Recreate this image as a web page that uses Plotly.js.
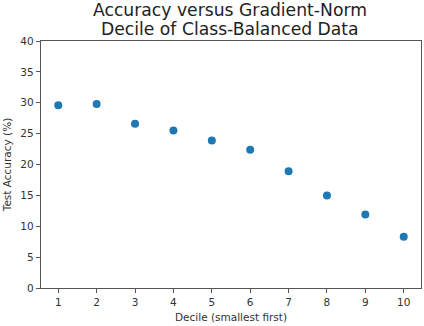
<!DOCTYPE html>
<html>
<head>
<meta charset="utf-8">
<script src="https://cdn.plot.ly/plotly-3.0.1.min.js"></script>
<style>
  html, body { margin: 0; padding: 0; background: #fff; }
  #chart { width: 424px; height: 326px; }
</style>
</head>
<body>
<div id="chart"></div>
<script>
// deciles and test accuracy
const deciles = [1, 2, 3, 4, 5, 6, 7, 8, 9, 10];
const accuracy = [29.6, 29.8, 26.6, 25.5, 23.9, 22.4, 18.9, 15.0, 11.9, 8.3];
const yTicks = [0, 5, 10, 15, 20, 25, 30, 35, 40];
const titleLines = ['Accuracy versus Gradient-Norm', 'Decile of Class-Balanced Data'];

const axisCommon = {
    showline: true,
    mirror: true,
    linecolor: '#555',
    linewidth: 1.2,
    ticks: 'outside',
    ticklen: 4,
    tickcolor: '#555',
    showgrid: false,
    zeroline: false,
    tickfont: { size: 10.5, color: '#333' },
};

const trace = {
    x: deciles,
    y: accuracy,
    mode: 'markers',
    type: 'scatter',
    marker: { size: 8, color: '#1f77b4' },
    hoverinfo: 'x+y',
};

// two-line title placed as annotations (tighter line spacing than layout.title)
const titleY = [1.124, 1.047];
const annotations = titleLines.map((t, i) => ({
    text: t,
    xref: 'paper',
    yref: 'paper',
    x: 0.497,
    y: titleY[i],
    xanchor: 'center',
    yanchor: 'middle',
    showarrow: false,
    font: { size: 17.2, color: '#222' },
}));

const layout = {
    width: 424,
    height: 326,
    paper_bgcolor: '#fff',
    plot_bgcolor: '#fff',
    font: { family: 'DejaVu Sans, sans-serif', color: '#333' },
    showlegend: false,
    margin: { l: 41, r: 3, t: 41, b: 38 },
    annotations: annotations,
    xaxis: Object.assign({}, axisCommon, {
        range: [0.55, 10.45],
        tickvals: deciles,
        title: { text: 'Decile (smallest first)', font: { size: 10.5, color: '#333' }, standoff: 6 },
    }),
    yaxis: Object.assign({}, axisCommon, {
        range: [0, 40],
        tickvals: yTicks,
        title: { text: 'Test Accuracy (%)', font: { size: 10.5, color: '#333' }, standoff: 6 },
    }),
};

Plotly.newPlot('chart', [trace], layout, { displayModeBar: false, staticPlot: true });
</script>
</body>
</html>
